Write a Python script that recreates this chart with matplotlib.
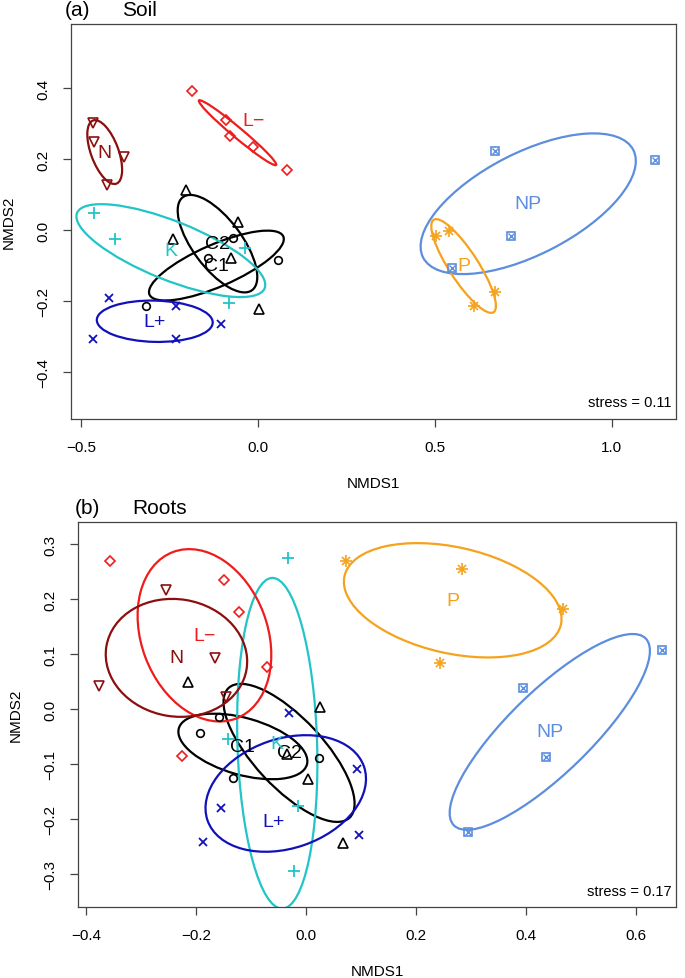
''' NMDS ordinations of soil and root communities with 95% SE ellipses '''

import numpy as np
import matplotlib
matplotlib.use('Agg')
import matplotlib.pyplot as plt
from matplotlib.patches import Ellipse

plt.rcParams['font.family'] = ['Liberation Sans', 'DejaVu Sans']

# site scores, panel (a) soil
soil_group = ['C1'] * 4 + ['C2'] * 5 + ['K'] * 4 + ['L+'] * 5 + ['L−'] * 5 + ['N'] * 4 + ['NP'] * 4 + ['P'] * 4
soil_nmds1 = [-0.316, -0.140, -0.070, 0.057,
              -0.203, -0.056, -0.239, -0.077, 0.004,
              -0.462, -0.404, -0.037, -0.081,
              -0.421, -0.232, -0.105, -0.467, -0.232,
              -0.187, -0.090, -0.079, -0.015, 0.083,
              -0.465, -0.462, -0.379, -0.425,
              0.669, 1.121, 0.715, 0.549,
              0.503, 0.540, 0.671, 0.610]
soil_nmds2 = [-0.213, -0.080, -0.023, -0.084,
              0.114, 0.022, -0.025, -0.080, -0.223,
              0.049, -0.024, -0.052, -0.205,
              -0.190, -0.215, -0.265, -0.307, -0.307,
              0.392, 0.311, 0.264, 0.233, 0.170,
              0.300, 0.247, 0.205, 0.126,
              0.223, 0.197, -0.016, -0.108,
              -0.016, -0.002, -0.174, -0.213]
soil_stress = 0.11

# site scores, panel (b) roots (one C2 site sits under its label)
root_group = ['C1'] * 4 + ['C2'] * 5 + ['K'] * 4 + ['L+'] * 5 + ['L−'] * 5 + ['N'] * 4 + ['NP'] * 4 + ['P'] * 4
root_nmds1 = [-0.158, -0.193, -0.132, 0.024,
              -0.214, 0.025, 0.003, 0.067, -0.035,
              -0.032, -0.141, -0.014, -0.022,
              -0.031, 0.093, -0.155, -0.187, 0.096,
              -0.356, -0.149, -0.121, -0.071, -0.226,
              -0.255, -0.165, -0.376, -0.146,
              0.648, 0.394, 0.436, 0.295,
              0.073, 0.283, 0.467, 0.244]
root_nmds2 = [-0.015, -0.043, -0.125, -0.090,
              0.050, 0.003, -0.127, -0.244, -0.082,
              0.276, -0.054, -0.176, -0.296,
              -0.008, -0.109, -0.180, -0.243, -0.230,
              0.270, 0.236, 0.176, 0.076, -0.086,
              0.217, 0.093, 0.042, 0.021,
              0.107, 0.038, -0.088, -0.224,
              0.270, 0.256, 0.183, 0.084]
root_stress = 0.17

# where a label was moved off the centroid
soil_label_shift = {'L−': (0.046, 0.034)}
root_label_shift = {'L+': (-0.022, -0.052)}

order = ['C1', 'C2', 'K', 'L+', 'L−', 'N', 'NP', 'P']
colours = {'C1': 'black', 'C2': 'black', 'K': '#22C4C8', 'L+': '#1111BB',
           'L−': '#EE1C1C', 'N': '#8B0F0F', 'NP': '#5C8EDD', 'P': '#F5A21C'}

W, H = 685, 979


def box(l, t, r, b):
    return [l / W, 1 - b / H, (r - l) / W, (b - t) / H]


def draw_points(ax, g, x, y):
    c = colours[g]
    kw = dict(linestyle='none', color=c, markerfacecolor='none', zorder=3)
    if g == 'C1':
        ax.plot(x, y, marker='o', ms=5.5, mew=1.2, **kw)
    elif g == 'C2':
        ax.plot(x, y, marker='^', ms=7, mew=1.2, **kw)
    elif g == 'K':
        ax.plot(x, y, marker='+', ms=8, mew=1.3, **kw)
    elif g == 'L+':
        ax.plot(x, y, marker='x', ms=6, mew=1.3, **kw)
    elif g == 'L−':
        ax.plot(x, y, marker='D', ms=5.5, mew=1.2, **kw)
    elif g == 'N':
        ax.plot(x, y, marker='v', ms=7, mew=1.2, **kw)
    elif g == 'NP':
        ax.plot(x, y, marker='s', ms=5.5, mew=1.2, **kw)
        ax.plot(x, y, marker='x', ms=4, mew=1.0, **kw)
    elif g == 'P':
        ax.plot(x, y, marker='+', ms=8, mew=1.2, **kw)
        ax.plot(x, y, marker='x', ms=5.5, mew=1.2, **kw)


# standard error ellipse, conf = 0.95 (like vegan ordiellipse kind='se')
def se_ellipse(ax, x, y, colour):
    x = np.asarray(x)
    y = np.asarray(y)
    cov = np.cov(x, y) / len(x)
    vals, vecs = np.linalg.eigh(cov)
    scale = np.sqrt(-2 * np.log(1 - 0.95))
    angle = np.degrees(np.arctan2(vecs[1, 1], vecs[0, 1]))
    e = Ellipse((x.mean(), y.mean()), 2 * scale * np.sqrt(vals[1]),
                2 * scale * np.sqrt(vals[0]), angle=angle,
                fill=False, edgecolor=colour, lw=1.6, zorder=2)
    ax.add_patch(e)


def nmds_panel(ax, group, x1, x2, shifts, stress, xticks, yticks, xlim, ylim):
    group = np.array(group)
    x1 = np.array(x1)
    x2 = np.array(x2)
    for g in order:
        m = group == g
        draw_points(ax, g, x1[m], x2[m])
        se_ellipse(ax, x1[m], x2[m], colours[g])
        dx, dy = shifts.get(g, (0, 0))
        ax.text(x1[m].mean() + dx, x2[m].mean() + dy, g, color=colours[g],
                fontsize=14, ha='center', va='center', zorder=4)
    ax.set_xlim(*xlim)
    ax.set_ylim(*ylim)
    ax.set_xticks(xticks)
    ax.set_yticks(yticks)
    ax.set_xticklabels(['%.1f' % t if t >= 0 else '−%.1f' % -t for t in xticks])
    ax.set_yticklabels(['%.1f' % t if t >= 0 else '−%.1f' % -t for t in yticks],
                       rotation=90, va='center')
    ax.tick_params(direction='out', length=6, width=0.9, labelsize=11,
                   pad=9, color='#444444')
    for s in ax.spines.values():
        s.set_color('#444444')
        s.set_linewidth(0.9)
    ax.set_xlabel('NMDS1', fontsize=11, labelpad=16)
    ax.set_ylabel('NMDS2', fontsize=11, labelpad=15)
    ax.text(0.992, 0.042, 'stress = %.2f' % stress, transform=ax.transAxes,
            ha='right', va='center', fontsize=10.5)


fig = plt.figure(figsize=(W / 100, H / 100), dpi=100)

ax_a = fig.add_axes(box(71, 25, 676, 420))
nmds_panel(ax_a, soil_group, soil_nmds1, soil_nmds2, soil_label_shift, soil_stress,
           [-0.5, 0.0, 0.5, 1.0], [-0.4, -0.2, 0.0, 0.2, 0.4],
           (-0.528, 1.181), (-0.532, 0.580))
fig.text(65 / W, 1 - 10 / H, '(a)', fontsize=15, ha='left', va='center')
fig.text(122 / W, 1 - 10 / H, 'Soil', fontsize=15, ha='left', va='center')

ax_b = fig.add_axes(box(78, 523, 676, 908))
nmds_panel(ax_b, root_group, root_nmds1, root_nmds2, root_label_shift, root_stress,
           [-0.4, -0.2, 0.0, 0.2, 0.4, 0.6], [-0.3, -0.2, -0.1, 0.0, 0.1, 0.2, 0.3],
           (-0.4145, 0.6727), (-0.361, 0.341))
fig.text(75 / W, 1 - 508 / H, '(b)', fontsize=15, ha='left', va='center')
fig.text(132 / W, 1 - 508 / H, 'Roots', fontsize=15, ha='left', va='center')

fig.savefig('out.png', dpi=100)
